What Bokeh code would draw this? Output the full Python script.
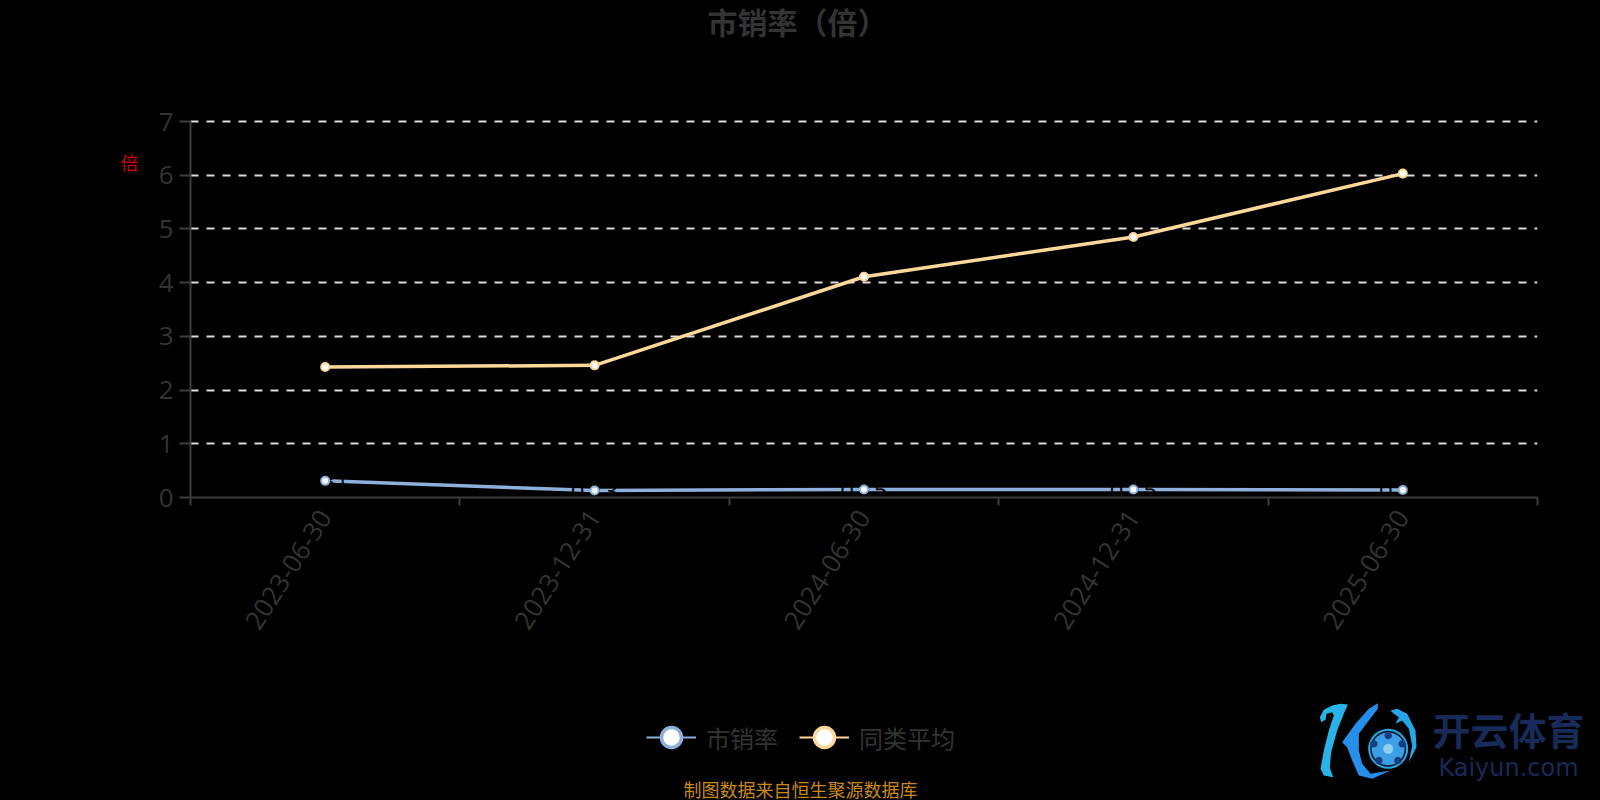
import numpy as np
from bokeh.plotting import figure
from bokeh.layouts import column, row
from bokeh.models import (Range1d, FixedTicker, LinearAxis, Legend, LegendItem, Grid)
from bokeh.core.properties import value
from bokeh.embed import file_html
from bokeh.resources import INLINE

categories = ["2023-06-30", "2023-12-31", "2024-06-30", "2024-12-31", "2025-06-30"]
ps_ratio = [0.31, 0.13, 0.15, 0.15, 0.14]
ps_labels = ["0.31", "0.13", "0.15", "0.15", "0.14"]
peer_avg = [2.43, 2.46, 4.11, 4.85, 6.03]
y_ticks = [0, 1, 2, 3, 4, 5, 6, 7]
series_names = ["市销率", "同类平均"]
title_text = "市销率（倍）"
unit_text = "倍"
source_note = "制图数据来自恒生聚源数据库"
logo_cn = "开云体育"
logo_en = "Kaiyun.com"

BLUE = "#8eb0dc"
ORANGE = "#fdd89a"
GREY = "#333333"
AXIS = "#3d3d3d"
CJK = "Noto Sans CJK SC"

W, H = 1600, 800
TOP_H, LEFT_W, BOT_Y = 60, 140, 640
# The value 7 sits at y=121; the frame runs 3px above it so the top grid line is not cut.
FRAME_L, FRAME_R, FRAME_T, FRAME_B = 190, 1537, 118, 497
Y_END = 7 * (FRAME_B - FRAME_T) / (FRAME_B - 121)


def pane(width, height, x0, x1, y0, y1):
    f = figure(width=width, height=height, output_backend="svg", toolbar_location=None,
               x_range=Range1d(x0, x1), y_range=Range1d(y1, y0), x_axis_type=None, y_axis_type=None,
               background_fill_color=None, border_fill_color="#000000",
               min_border_left=0, min_border_right=0, min_border_top=0, min_border_bottom=0)
    f.outline_line_color = None
    return f


def put_text(f, text, x, y, size, color, style="normal", font=CJK):
    f.text([x], [y], text=[text], text_font=value(font), text_font_size=size, text_color=color,
           text_font_style=style, text_align="center", text_baseline="middle")


top = pane(W, TOP_H, 0, W, 0, TOP_H)
put_text(top, title_text, 797, 20, "30px", GREY, "bold")

# This pane's frame lines up with the main frame inside the row.
left = pane(LEFT_W, BOT_Y - TOP_H, 0, LEFT_W, FRAME_T, FRAME_B)
left.min_border_top = FRAME_T - TOP_H
left.min_border_bottom = BOT_Y - FRAME_B
put_text(left, unit_text, 129, 161, "18px", "#d40000")

p = figure(width=W - LEFT_W, height=BOT_Y - TOP_H, output_backend="svg", toolbar_location=None,
           x_range=Range1d(0, 5), y_range=Range1d(0, Y_END),
           background_fill_color=None, border_fill_color="#000000",
           min_border_left=FRAME_L - LEFT_W, min_border_right=W - FRAME_R,
           min_border_top=FRAME_T - TOP_H, min_border_bottom=BOT_Y - FRAME_B,
           x_axis_type=None, y_axis_type=None)
p.outline_line_color = None

centers = [i + 0.5 for i in range(len(categories))]

xa = LinearAxis(ticker=FixedTicker(ticks=centers, minor_ticks=list(range(len(categories) + 1))),
                major_label_overrides={c: n for c, n in zip(centers, categories)})
xa.axis_line_color = AXIS
xa.axis_line_width = 2
xa.major_tick_line_color = None
xa.minor_tick_line_color = AXIS
xa.minor_tick_line_width = 2
xa.minor_tick_out = 8
xa.minor_tick_in = 0
xa.major_label_orientation = 1.0
xa.major_label_standoff = 7
xa.major_label_text_color = GREY
xa.major_label_text_font = "Open Sans"
xa.major_label_text_font_size = "26px"
p.add_layout(xa, "below")

ya = LinearAxis(ticker=FixedTicker(ticks=y_ticks), bounds=(0, 7))
ya.axis_line_color = AXIS
ya.axis_line_width = 2
ya.major_tick_line_color = AXIS
ya.major_tick_line_width = 2
ya.major_tick_out = 11
ya.major_tick_in = 0
ya.minor_tick_line_color = None
ya.major_label_standoff = 6
ya.major_label_text_color = GREY
ya.major_label_text_font = "Open Sans"
ya.major_label_text_font_size = "26px"
p.add_layout(ya, "left")

p.add_layout(Grid(dimension=1, ticker=FixedTicker(ticks=y_ticks[1:]), grid_line_color="#dcdcdc",
                  grid_line_width=2, grid_line_dash="8 8"))

p.line(centers, ps_ratio, line_color=BLUE, line_width=3.5)
p.text(centers, ps_ratio, text=ps_labels, text_color="#000000", text_font=value("Open Sans"),
       text_font_size="24px", text_align="center", text_baseline="alphabetic", y_offset=1)
p.scatter(centers, ps_ratio, size=8, fill_color="#ffffff", line_color=BLUE, line_width=2)
p.line(centers, peer_avg, line_color=ORANGE, line_width=3.5)
p.scatter(centers, peer_avg, size=8, fill_color="#ffffff", line_color=ORANGE, line_width=2)

bottom = pane(W, H - BOT_Y, 0, W, BOT_Y, H)
nan = [float("nan")]
k1 = bottom.line(nan, nan, line_color=BLUE, line_width=2)
m1 = bottom.scatter(nan, nan, fill_color="#ffffff", line_color=BLUE, line_width=3.5)
k2 = bottom.line(nan, nan, line_color=ORANGE, line_width=2)
m2 = bottom.scatter(nan, nan, fill_color="#ffffff", line_color=ORANGE, line_width=3.5)
legend = Legend(items=[LegendItem(label=series_names[0], renderers=[k1, m1]),
                       LegendItem(label=series_names[1], renderers=[k2, m2])],
                orientation="horizontal", location=(646, 38), margin=0, padding=0,
                background_fill_alpha=0, border_line_color=None,
                glyph_width=50, glyph_height=50, label_text_color=GREY,
                label_text_font=CJK, label_text_font_size="24px", spacing=21, label_standoff=10)
bottom.add_layout(legend, "center")

put_text(bottom, source_note, 800, 788, "18px", "#c98a15")
put_text(bottom, logo_cn, 1508, 728, "38px", "#172a58", "bold")
put_text(bottom, logo_en, 1508, 767, "24px", "#172a58", font="DejaVu Sans")


def blob(zoom_pts, color):
    # logo outlines, traced on the 3x crop whose origin is (1290, 680)
    xs = [1290 + a / 3 for a, _ in zoom_pts]
    ys = [680 + b / 3 for _, b in zoom_pts]
    bottom.patch(xs, ys, fill_color=color, line_color=None)


def disc(cx, cy, r, color):
    t = np.linspace(0, 2 * np.pi, 40)
    blob(list(zip(cx + r * np.cos(t), cy + r * np.sin(t))), color)


blob([(88, 110), (100, 88), (125, 75), (150, 70), (172, 72), (160, 100), (140, 150), (122, 215),
      (118, 262), (128, 290), (100, 285), (90, 265), (100, 210), (115, 150), (130, 105), (125, 95),
      (108, 100), (105, 118), (92, 125)], "#28b4e8")
blob([(155, 185), (195, 130), (235, 85), (262, 68), (262, 85), (235, 120), (205, 160), (205, 210),
      (215, 250), (240, 280), (300, 270), (245, 295), (205, 285), (185, 240), (170, 200)], "#2590ec")
blob([(300, 90), (320, 85), (350, 100), (375, 150), (378, 200), (355, 245), (365, 195), (355, 145),
      (335, 120), (315, 130), (325, 110), (310, 100)], "#25a6e8")
disc(293, 205, 60, "#2aa8e0")
disc(293, 205, 54, "#0a1a35")
disc(293, 205, 49, "#3b9fe6")
disc(293, 205, 15, "#8fd0f5")
for bx, by in [(293, 165), (250, 190), (265, 240), (322, 240), (335, 190)]:
    disc(bx, by, 11, "#123f80")

page = column(top, row(left, p, spacing=0), bottom, spacing=0)
css = "<style>html,body,body>div,.bk-root{background:#000000 !important;margin:0}</style></head>"
out = file_html(page, INLINE).replace("</head>", css, 1)
open("out.html", "w").write(out)
